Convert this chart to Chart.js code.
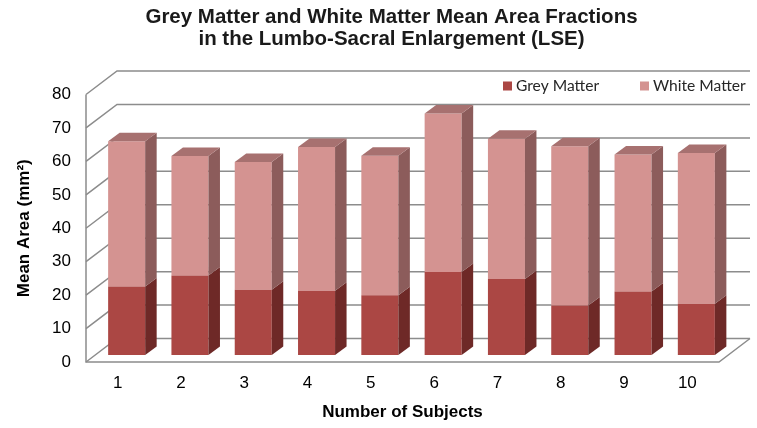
<!DOCTYPE html>
<html><head><meta charset="utf-8">
<script src="https://cdn.jsdelivr.net/npm/chart.js@4.4.0/dist/chart.umd.min.js"></script>
<style>html,body{margin:0;padding:0;background:#fff;} #wrap{width:757px;height:428px;}</style>
</head><body><div id="wrap"><canvas id="c" width="757" height="428"></canvas></div>
<script>
const subjects = ['1','2','3','4','5','6','7','8','9','10'];
const greyMatter = [20.5, 23.8, 19.5, 19.2, 17.9, 24.8, 22.7, 14.8, 19.0, 15.3];
const whiteMatter = [43.4, 35.7, 38.2, 43.0, 41.7, 47.4, 42.0, 47.6, 41.0, 45.1];
const yTicks = [0, 10, 20, 30, 40, 50, 60, 70, 80];
const seriesNames = ['Grey Matter', 'White Matter'];
const titleLines = ['Grey Matter and White Matter Mean Area Fractions', 'in the Lumbo-Sacral Enlargement (LSE)'];
const yTitle = 'Mean Area (mm\u00B2)';
const xTitle = 'Number of Subjects';

// style / geometry settings
const FRONT = ['#AB4744', '#D49391'];
const SIDE = ['#6E2927', '#8C5C5B'];
const TOP = ['#8a3a38', '#A77170'];
const WALL = {dx: 31, dy: -23.5};
const BAR_OFF = {dx: 9, dy: -7};
const BAR_DEPTH = {dx: 11.5, dy: -8.5};
const SANS = "'Liberation Sans', Arial, sans-serif";

const threeD = {
  id: 'threeD',
  beforeDatasetsDraw(chart) {
    const {ctx, chartArea: a, scales: {y}} = chart;
    ctx.save();
    ctx.strokeStyle = '#8c8c8c';
    ctx.lineWidth = 1.5;
    yTicks.forEach(v => {
      const py = y.getPixelForValue(v);
      ctx.beginPath();
      ctx.moveTo(a.left, py);
      ctx.lineTo(a.left + WALL.dx, py + WALL.dy);
      ctx.lineTo(a.right + WALL.dx, py + WALL.dy);
      ctx.stroke();
    });
    const top = y.getPixelForValue(yTicks[yTicks.length - 1]);
    const bot = y.getPixelForValue(0);
    ctx.beginPath();
    ctx.moveTo(a.left, top);
    ctx.lineTo(a.left, bot);
    ctx.lineTo(a.right, bot);
    ctx.lineTo(a.right + WALL.dx, bot + WALL.dy);
    ctx.stroke();
    ctx.restore();
    ctx.save();
    ctx.translate(BAR_OFF.dx, BAR_OFF.dy);
  },
  afterDatasetsDraw(chart) {
    const ctx = chart.ctx;
    const n = chart.data.datasets.length;
    chart.data.datasets.forEach((ds, di) => {
      const meta = chart.getDatasetMeta(di);
      meta.data.forEach(el => {
        const p = el.getProps(['x', 'y', 'base', 'width'], true);
        const l = p.x - p.width / 2, r = p.x + p.width / 2;
        const t = Math.min(p.y, p.base), b = Math.max(p.y, p.base);
        ctx.fillStyle = SIDE[di];
        ctx.beginPath();
        ctx.moveTo(r, t);
        ctx.lineTo(r + BAR_DEPTH.dx, t + BAR_DEPTH.dy);
        ctx.lineTo(r + BAR_DEPTH.dx, b + BAR_DEPTH.dy);
        ctx.lineTo(r, b);
        ctx.closePath();
        ctx.fill();
        if (di === n - 1) {
          ctx.fillStyle = TOP[di];
          ctx.beginPath();
          ctx.moveTo(l, t);
          ctx.lineTo(l + BAR_DEPTH.dx, t + BAR_DEPTH.dy);
          ctx.lineTo(r + BAR_DEPTH.dx, t + BAR_DEPTH.dy);
          ctx.lineTo(r, t);
          ctx.closePath();
          ctx.fill();
        }
      });
    });
    ctx.restore();
  },
  afterDraw(chart) {
    const ctx = chart.ctx;
    ctx.save();
    // title
    ctx.font = "bold 20.5px " + SANS;
    ctx.fillStyle = '#1a1a1a';
    ctx.textAlign = 'center';
    ctx.textBaseline = 'alphabetic';
    ctx.fillText(titleLines[0], 391.5, 22.8);
    ctx.fillText(titleLines[1], 391.5, 45.2);
    // legend
    ctx.font = "15.6px Lato, 'Open Sans', sans-serif";
    ctx.textBaseline = 'middle';
    ctx.textAlign = 'left';
    const xs = [503, 640];
    const cy = 86;
    chart.data.datasets.forEach((ds, i) => {
      ctx.fillStyle = ds.backgroundColor;
      ctx.fillRect(xs[i], cy - 4.5, 9, 9);
      ctx.fillStyle = '#262626';
      ctx.fillText(ds.label, xs[i] + 13, cy);
    });
    ctx.restore();
  }
};

new Chart(document.getElementById('c'), {
  type: 'bar',
  data: {
    labels: subjects,
    datasets: [
      {label: seriesNames[0], data: greyMatter, backgroundColor: FRONT[0], borderWidth: 0},
      {label: seriesNames[1], data: whiteMatter, backgroundColor: FRONT[1], borderWidth: 0}
    ]
  },
  options: {
    responsive: false,
    animation: false,
    devicePixelRatio: 1,
    layout: {padding: {left: 0, right: 38, top: 94.5, bottom: 0}},
    datasets: {bar: {barPercentage: 0.585, categoryPercentage: 1}},
    plugins: {
      legend: {display: false},
      tooltip: {enabled: false},
      title: {display: false}
    },
    scales: {
      x: {
        stacked: true,
        grid: {display: false, drawTicks: false},
        border: {display: false},
        ticks: {color: '#000', font: {family: SANS, size: 17}, padding: 11},
        title: {display: true, text: xTitle, color: '#000', font: {family: SANS, size: 17, weight: 'bold'}, padding: {top: 0, bottom: 5.5}},
        afterFit(s) { s.height = 66; }
      },
      y: {
        stacked: true,
        min: 0, max: 80,
        grid: {display: false, drawTicks: false},
        border: {display: false},
        afterBuildTicks(s) { s.ticks = yTicks.map(v => ({value: v})); },
        ticks: {color: '#000', font: {family: SANS, size: 17}, padding: 15},
        title: {display: true, text: yTitle, color: '#000', font: {family: SANS, size: 17, weight: 'bold'}, padding: {top: 14, bottom: 0}},
        afterFit(s) { s.width = 86; }
      }
    }
  },
  plugins: [threeD]
});
</script>
</body></html>
